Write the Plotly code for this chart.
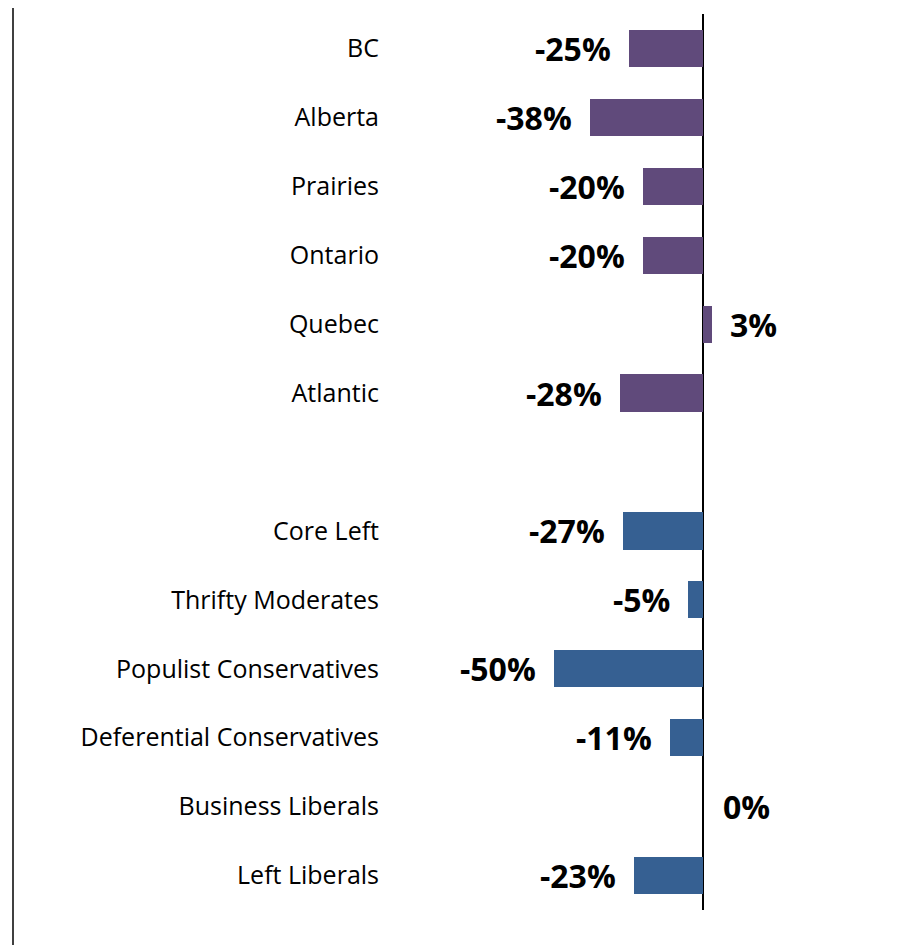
import plotly.graph_objects as go

regions = ["BC", "Alberta", "Prairies", "Ontario", "Quebec", "Atlantic"]
region_values = [-25, -38, -20, -20, 3, -28]
segments = ["Core Left", "Thrifty Moderates", "Populist Conservatives",
            "Deferential Conservatives", "Business Liberals", "Left Liberals"]
segment_values = [-27, -5, -50, -11, 0, -23]

PURPLE = "#604A7B"
BLUE = "#366092"

region_pos = list(range(len(regions)))
segment_pos = [len(regions) + 1 + i for i in range(len(segments))]

fig = go.Figure()
fig.add_trace(go.Bar(y=region_pos, x=region_values, orientation="h",
                     marker=dict(color=PURPLE, line=dict(width=0)), width=0.54))
fig.add_trace(go.Bar(y=segment_pos, x=segment_values, orientation="h",
                     marker=dict(color=BLUE, line=dict(width=0)), width=0.54))

for pos, val in zip(region_pos + segment_pos, region_values + segment_values):
    fig.add_annotation(x=val, y=pos, xref="x", yref="y", text=f"<b>{val}%</b>",
                       showarrow=False,
                       xanchor="left" if val >= 0 else "right",
                       xshift=(16 if val > 0 else 18) if val >= 0 else -16,
                       font=dict(family="Open Sans", size=32, color="black"))

L, T, B = 382, 6, 43
PW = 480
PH = 896
n = len(regions) + 1 + len(segments)
fig.update_layout(
    width=910, height=945,
    margin=dict(l=L, r=910 - L - PW, t=T, b=B),
    paper_bgcolor="white", plot_bgcolor="white",
    showlegend=False, bargap=0,
    font=dict(family="Open Sans", size=25, color="black"),
    xaxis=dict(range=[-105.0, 56.0], showgrid=False, showticklabels=False,
               zeroline=True, zerolinecolor="black", zerolinewidth=2,
               fixedrange=True),
    yaxis=dict(range=[n - 0.5, -0.5], tickmode="array",
               tickvals=region_pos + segment_pos, ticktext=regions + segments,
               showgrid=False, zeroline=False, ticks="", ticklabelstandoff=10,
               tickfont=dict(family="Open Sans", size=25, color="black")),
)

fig.add_shape(type="line", xref="paper", yref="paper",
              x0=(5 - L) / PW, x1=(5 - L) / PW, y0=-(B + 5) / PH, y1=1 + T / PH,
              line=dict(color="black", width=1.5))

fig.write_html("out.html")
